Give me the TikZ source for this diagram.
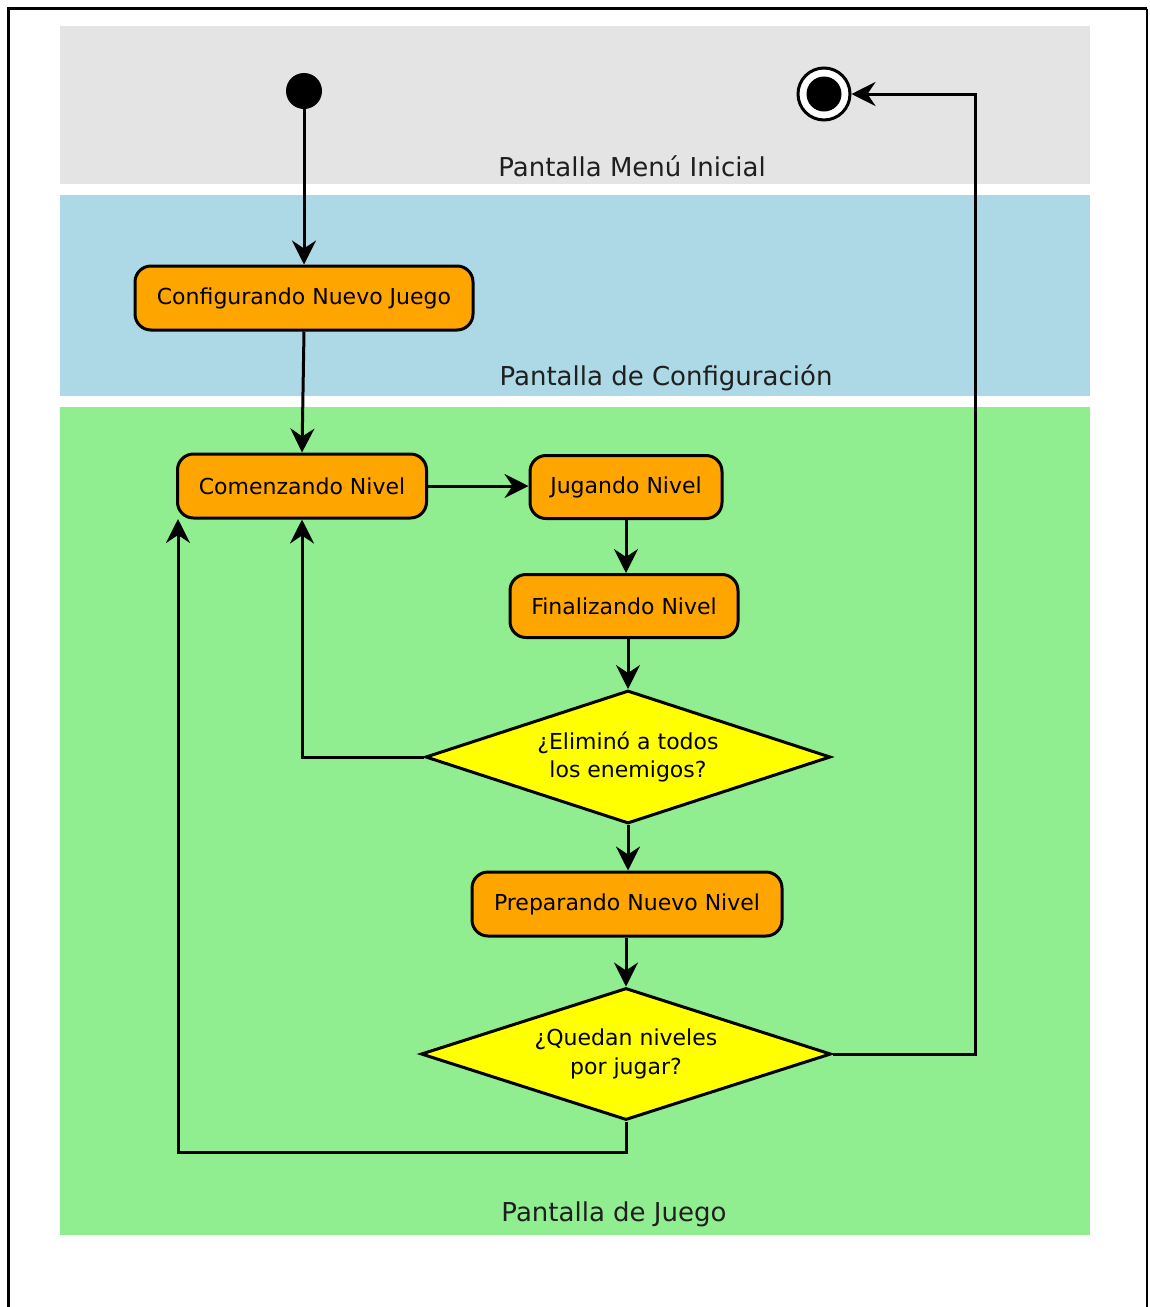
\documentclass[tikz,border=0pt]{standalone}
\usepackage{fontspec}
\setmainfont{DejaVu Sans}
\usetikzlibrary{shapes.geometric,arrows.meta}

\definecolor{lanegray}{HTML}{E4E4E4}
\definecolor{laneblue}{HTML}{ADD8E6}
\definecolor{lanegreen}{HTML}{90EE90}
\definecolor{stateorange}{HTML}{FFA500}
\definecolor{choiceyellow}{HTML}{FFFF00}

\tikzset{
  lanelabel/.style={font=\fontsize{26}{31}\selectfont, text=black!88, inner sep=0pt},
  statebox/.style={draw=black, line width=3pt, fill=stateorange, rounded corners=16pt,
    font=\fontsize{22}{28.6}\selectfont, inner sep=0pt, align=center},
  choice/.style={draw=black, line width=3pt, fill=choiceyellow, shape=diamond, aspect=3,
    inner sep=0pt, font=\fontsize{22}{28.6}\selectfont, align=center},
  flow/.style={draw=black, line width=3pt,
    -{Stealth[length=24pt, width=24pt, inset=8pt]}},
}

\begin{document}
\begin{tikzpicture}[x=1pt, y=-1pt]
  \useasboundingbox (0,0) rectangle (1149,1307);

  % outer frame (open at the bottom)
  \draw[line width=3pt] (8,1307) -- (8,8.5) -- (1146.5,8.5);
  \draw[line width=2pt] (1146.5,8.5) -- (1146.5,1307);

  % swimlanes
  \fill[lanegray]  (60,26)  rectangle (1090,184);
  \fill[laneblue]  (60,195) rectangle (1090,396);
  \fill[lanegreen] (60,407) rectangle (1090,1235);

  \node[lanelabel] (lmenu) at (632,166)  {Pantalla Menú Inicial};
  \node[lanelabel] (lconf) at (666,378)  {Pantalla de Configuración};
  \node[lanelabel] (ljuego) at (614,1214) {Pantalla de Juego};

  % initial and final states
  \node[circle, fill=black, minimum size=36pt, inner sep=0pt] (init) at (304,91) {};
  \node[circle, draw=black, line width=3pt, fill=white, minimum size=52pt, inner sep=0pt] (fin) at (824,94) {};
  \fill[black] (fin.center) circle (17.5pt);

  % states
  \node[statebox, minimum width=338pt, minimum height=64pt] (cfg)   at (304,298) {Configurando Nuevo Juego};
  \node[statebox, minimum width=249pt, minimum height=64pt] (start) at (302,486) {Comenzando Nivel};
  \node[statebox, minimum width=192pt, minimum height=63pt] (play)  at (626,487) {Jugando Nivel};
  \node[statebox, minimum width=228pt, minimum height=63pt] (endl)  at (624,606) {Finalizando Nivel};
  \node[choice, minimum width=405pt, minimum height=133pt] (won)    at (628,757) {¿Eliminó a todos\\los enemigos?};
  \node[statebox, minimum width=310pt, minimum height=64pt] (prep)  at (627,904) {Preparando Nuevo Nivel};
  \node[choice, minimum width=410pt, minimum height=132pt] (more)   at (626,1054) {¿Quedan niveles\\por jugar?};

  % bend points of the return paths
  \coordinate (rt)  at (975,94);
  \coordinate (lb)  at (178,1152);
  \coordinate (lup) at (178,519);

  % transitions
  \draw[flow] (init.south) -- (cfg.north);
  \draw[flow] (cfg.south) -- (start.north);
  \draw[flow] (start.east) -- (start.east -| play.west);
  \draw[flow] (play.south) -- (play.south |- endl.north);
  \draw[flow] (endl.south -| won.north) -- (won.north);
  \draw[flow] (won.west) -| (start.south);
  \draw[flow] (won.south) -- (won.south |- prep.north);
  \draw[flow] (prep.south -| more.north) -- (more.north);
  \draw[flow] (more.east) -| (rt) -- (fin.east);
  \draw[flow] (more.south) |- (lb) -- (lup);
\end{tikzpicture}
\end{document}
